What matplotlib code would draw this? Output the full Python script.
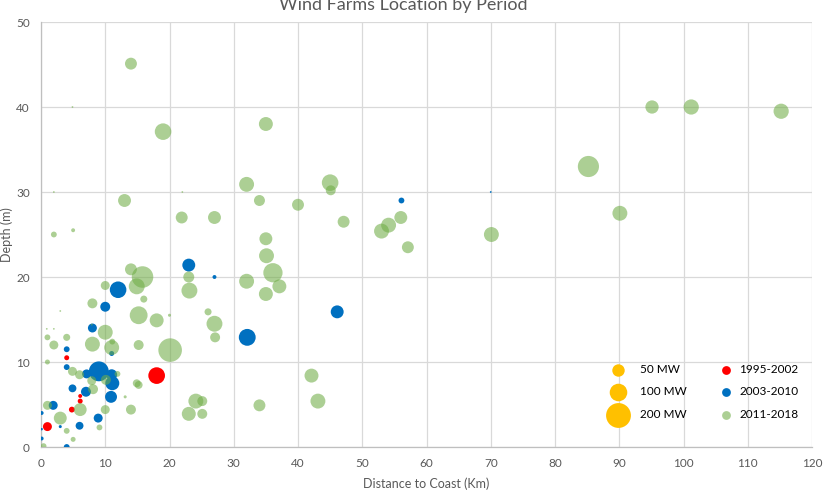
import matplotlib
matplotlib.use('Agg')
import matplotlib.pyplot as plt

plt.rcParams['font.family'] = ['Lato', 'DejaVu Sans']

# 1995-2002 wind farms: distance (km), depth (m), capacity (MW)
x_9502 = [4.0, 6.1, 6.1, 4.8, 1.0, 18.0]
y_9502 = [10.5, 6.0, 5.4, 4.4, 2.4, 8.4]
mw_9502 = [8, 5, 8, 11, 26, 90]

# 2003-2010
x_0310 = [56.1, 70.0, 27.0, 23.0, 46.1, 32.1, 12.0, 10.0, 8.0, 4.0, 11.0, 4.0,
          9.0, 7.1, 11.0, 11.1, 4.9, 7.0, 10.9, 1.9, 0.1, 8.9, 3.0, 6.0, 0.1,
          0.1, 4.0]
y_0310 = [29.0, 30.0, 20.0, 21.4, 15.9, 12.9, 18.5, 16.5, 14.0, 11.5, 11.0, 9.4,
          8.9, 8.6, 8.5, 7.5, 6.9, 6.5, 5.9, 4.9, 4.0, 3.4, 2.4, 2.5, 2.1,
          1.0, 0.0]
mw_0310 = [11, 1, 5, 54, 54, 92, 89, 32, 26, 11, 8, 11,
           128, 26, 39, 63, 20, 32, 46, 26, 5, 26, 3, 20, 2,
           5, 11]

# 2011-2018
x_1118 = [14.0, 19.0, 4.9, 35.0, 32.0, 34.0, 40.0, 45.0, 45.1, 47.1, 27.0, 53.0,
          54.1, 56.0, 57.1, 35.0, 35.1, 36.1, 32.0, 95.1, 101.2, 115.2, 85.2, 90.1,
          70.1, 23.1, 16.0, 18.0, 20.0, 26.0, 27.0, 27.1, 20.1, 15.2, 15.2, 35.0,
          37.1, 42.1, 43.1, 34.0, 24.1, 25.1, 23.0, 25.1, 15.2, 13.0, 21.9, 2.0,
          5.0, 2.0, 22.0, 23.0, 14.0, 15.8, 14.9, 10.0, 8.0, 3.0, 10.0, 0.9,
          2.0, 7.9, 1.0, 4.0, 2.0, 8.0, 11.0, 11.1, 1.0, 4.9, 6.0, 11.9,
          10.1, 7.9, 8.1, 14.9, 13.1, 1.0, 6.1, 3.0, 10.0, 14.0, 4.0, 9.1,
          5.0, 0.4]
y_1118 = [45.1, 37.1, 40.0, 38.0, 30.9, 29.0, 28.5, 31.1, 30.2, 26.5, 27.0, 25.4,
          26.1, 27.0, 23.5, 24.5, 22.5, 20.5, 19.5, 40.0, 40.0, 39.5, 33.0, 27.5,
          25.0, 18.4, 17.4, 14.9, 15.5, 15.9, 14.5, 12.9, 11.4, 12.0, 15.5, 18.0,
          18.9, 8.4, 5.4, 4.9, 5.4, 5.4, 3.9, 3.9, 7.3, 29.0, 27.0, 25.0,
          25.5, 30.0, 30.0, 20.0, 20.9, 20.0, 18.9, 19.0, 16.9, 16.0, 13.5, 13.9,
          13.9, 14.4, 12.9, 12.9, 12.0, 12.1, 11.7, 12.4, 10.0, 8.9, 8.5, 8.6,
          7.9, 7.8, 6.8, 7.5, 5.9, 4.9, 4.4, 3.4, 4.4, 4.4, 1.9, 2.3,
          0.9, 0.1]
mw_1118 = [46, 89, 1, 63, 72, 39, 46, 89, 32, 46, 54, 72,
           72, 54, 46, 54, 72, 120, 72, 57, 75, 75, 145, 72,
           72, 82, 16, 63, 3, 16, 82, 32, 180, 32, 103, 63,
           63, 63, 72, 46, 72, 32, 63, 32, 20, 54, 46, 11,
           5, 1, 1, 39, 46, 150, 82, 26, 32, 1, 72, 1,
           1, 1, 11, 16, 26, 72, 72, 11, 8, 26, 26, 11,
           32, 26, 32, 20, 3, 26, 54, 54, 26, 32, 11, 11,
           8, 11]

legend_mw = [50, 100, 200]
legend_mw_labels = ['50 MW', '100 MW', '200 MW']

SCALE = 1.6  # points^2 per MW
RED = '#FF0000'
BLUE = '#0070C0'
GREEN = '#70AD47'
GOLD = '#FFC000'
GRID = '#D9D9D9'
TXT = '#595959'

fig = plt.figure(figsize=(8.25, 4.9), dpi=100)
ax = fig.add_axes([41 / 825, 43 / 490, 771 / 825, 425 / 490])

ax.scatter(x_9502, y_9502, s=[m * SCALE for m in mw_9502], color=RED,
           linewidths=0, zorder=3)
ax.scatter(x_0310, y_0310, s=[m * SCALE for m in mw_0310], color=BLUE,
           linewidths=0, zorder=4)
ax.scatter(x_1118, y_1118, s=[m * SCALE for m in mw_1118], color=GREEN,
           alpha=0.58, linewidths=0, zorder=5)

ax.set_xlim(0, 120)
ax.set_ylim(0, 50)
ax.set_xticks(range(0, 121, 10))
ax.set_yticks(range(0, 51, 10))
ax.grid(True, color=GRID, linewidth=0.9)
ax.set_axisbelow(True)
for side in ['top', 'right']:
    ax.spines[side].set_visible(False)
for side in ['left', 'bottom']:
    ax.spines[side].set_color('#BFBFBF')
    ax.spines[side].set_linewidth(0.9)
ax.tick_params(length=0, colors=TXT, labelsize=8.5, pad=8)

ax.set_xlabel('Distance to Coast (Km)', color=TXT, fontsize=9, labelpad=6)
ax.set_ylabel('Depth (m)', color=TXT, fontsize=9, labelpad=2)
fig.text(0.489, 0.99, 'Wind Farms Location by Period', ha='center',
         va='center', color=TXT, fontsize=13)

# size legend
size_handles = [ax.scatter([], [], s=m * SCALE, color=GOLD, linewidths=0)
                for m in legend_mw]
leg1 = ax.legend(size_handles, legend_mw_labels, loc='upper left',
                 bbox_to_anchor=(0.725, 0.21), frameon=False, fontsize=8.5,
                 labelspacing=1.0, handletextpad=0.9, borderpad=0)
ax.add_artist(leg1)

# period legend
p_handles = [ax.scatter([], [], s=40, color=RED, linewidths=0),
             ax.scatter([], [], s=40, color=BLUE, linewidths=0),
             ax.scatter([], [], s=40, color=GREEN, alpha=0.58, linewidths=0)]
ax.legend(p_handles, ['1995-2002', '2003-2010', '2011-2018'], loc='upper left',
          bbox_to_anchor=(0.866, 0.21), frameon=False, fontsize=8.5,
          labelspacing=1.0, handletextpad=0.1, borderpad=0)

fig.savefig('out.png', dpi=100)
